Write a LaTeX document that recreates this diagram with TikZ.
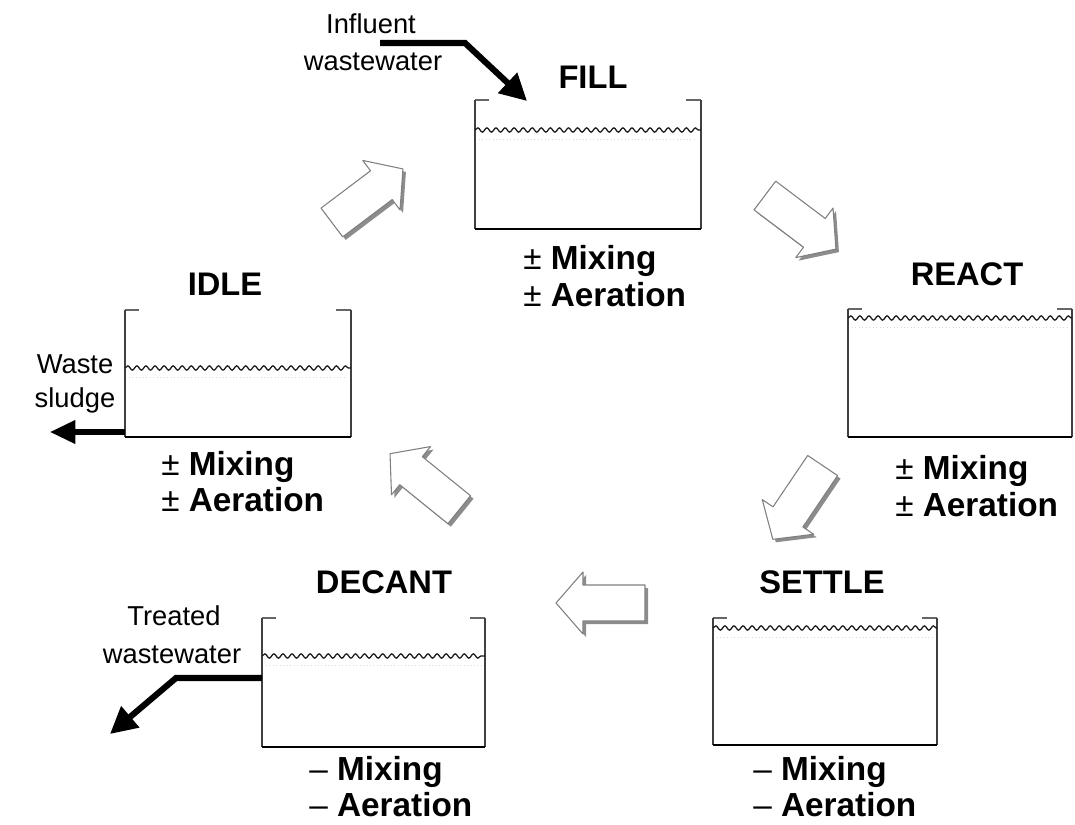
\documentclass[tikz,border=0pt]{standalone}
\usepackage{fontspec}
\setmainfont{Liberation Sans}
\usetikzlibrary{arrows.meta,decorations.pathmorphing}
\newcommand{\tankat}[6]{% name, xl, yt, xr, yb, yw
  \coordinate (#1-nw) at (#2,#3);
  \coordinate (#1-ne) at (#4,#3);
  \coordinate (#1-sw) at (#2,#5);
  \coordinate (#1-se) at (#4,#5);
  \coordinate (#1-wl) at (#2,#6);
  \coordinate (#1-wr) at (#4,#6);
  \draw[tick] (#2+14,#3) -- (#1-nw);
  \draw[tick] (#4-15,#3) -- (#1-ne);
  \draw[wall] (#1-nw) -- (#1-sw);
  \draw[wall] (#1-ne) -- (#1-se);
  \draw[bottom] (#1-sw) -- (#1-se);
  \draw[wave] (#1-wl) -- (#1-wr);
  \draw[faint] (#2+4,#6+9) -- (#4-4,#6+9);
}
\newcommand{\barr}[3]{% cx, cy, angle
  \fill[bshadow, shift={(#1+3,#2+3)}, rotate=#3] (-44,-18) -- (18,-18) -- (18,-31) -- (45,0) -- (18,31) -- (18,18) -- (-44,18) -- cycle;
  \filldraw[barrow, shift={(#1,#2)}, rotate=#3] (-44,-18) -- (18,-18) -- (18,-31) -- (45,0) -- (18,31) -- (18,18) -- (-44,18) -- cycle;
}
\begin{document}
\begin{tikzpicture}[x=0.75pt,y=-0.75pt,
  wall/.style={draw=black!75, line width=1.2pt},
  tick/.style={draw=black!60, line width=1pt},
  bottom/.style={draw=black, line width=1.4pt},
  wave/.style={draw=black!90, line width=0.95pt, decorate, decoration={snake, segment length=6.8pt, amplitude=1.6pt}},
  faint/.style={draw=black!15, line width=0.6pt, dotted},
  flow/.style={draw=black, line width=4.6pt, -{Triangle[length=20pt,width=20pt]}},
  flowthin/.style={draw=black, line width=3.8pt, -{Triangle[length=19pt,width=17pt]}},
  lab/.style={font=\fontsize{20.5}{24}\selectfont, inner sep=0pt, anchor=base},
  ttl/.style={font=\fontsize{24.5}{28}\selectfont\bfseries, inner sep=0pt, anchor=base},
  cond/.style={font=\fontsize{25}{28}\selectfont\bfseries, inner sep=0pt, anchor=base west},
  barrow/.style={fill=white, draw=black!50, line width=0.8pt, line join=round},
  bshadow/.style={fill=black!45}
]
\useasboundingbox (0,0) rectangle (1075,825);

% tanks
\tankat{fill}{475}{100}{701}{229}{130}
\tankat{react}{848}{309}{1072}{437}{318}
\tankat{settle}{713}{618}{937}{745}{628}
\tankat{decant}{262}{618}{485}{747}{656}
\tankat{idle}{125}{310}{351}{437}{368}

% titles
\node[ttl] (tfill) at (593,88) {FILL};
\node[ttl] (treact) at (967,285) {REACT};
\node[ttl] (tsettle) at (822,593) {SETTLE};
\node[ttl] (tdecant) at (384,593) {DECANT};
\node[ttl] (tidle) at (225,295) {IDLE};

% conditions
\node[cond] (cf1) at (523,269) {\textmd{±} Mixing};
\node[cond] (cf2) at (523,306) {\textmd{±} Aeration};
\node[cond] (cr1) at (895,479) {\textmd{±} Mixing};
\node[cond] (cr2) at (895,516) {\textmd{±} Aeration};
\node[cond] (ci1) at (161,475) {\textmd{±} Mixing};
\node[cond] (ci2) at (161,511) {\textmd{±} Aeration};
\node[cond] (cs1) at (753,780) {\textmd{–} Mixing};
\node[cond] (cs2) at (753,816) {\textmd{–} Aeration};
\node[cond] (cd1) at (309,780) {\textmd{–} Mixing};
\node[cond] (cd2) at (309,816) {\textmd{–} Aeration};

% flow labels
\node[lab] (inf1) at (371,33) {Influent};
\node[lab] (inf2) at (373,70) {wastewater};
\node[lab] (ws1) at (75,373) {Waste};
\node[lab] (ws2) at (75,407) {sludge};
\node[lab] (tr1) at (174,625) {Treated};
\node[lab] (tr2) at (172,663) {wastewater};

% flow arrows
\coordinate (infstart) at (380,43);
\coordinate (infbend) at (465,43);
\coordinate (fillin) at (527,101);
\draw[flow] (infstart) -- (infbend) -- (fillin);

\coordinate (idleout) at (125,432);
\coordinate (wasteend) at (50,432);
\draw[flowthin] (idleout) -- (wasteend);

\coordinate (decout) at (262,678);
\coordinate (decbend) at (176,678);
\coordinate (decend) at (110,734);
\draw[flow] (decout) -- (decbend) -- (decend);

% cycle block arrows
\barr{367}{196}{37}
\barr{800}{222}{-37}
\barr{798}{502}{-124}
\barr{601}{603}{180}
\barr{425}{482}{141}
\end{tikzpicture}
\end{document}
